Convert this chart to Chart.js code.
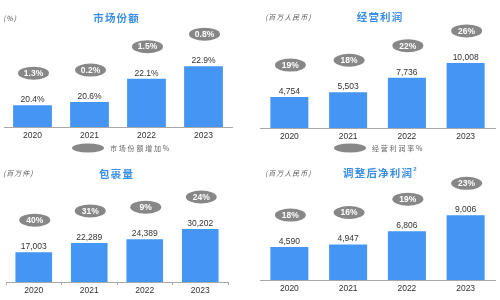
<!DOCTYPE html>
<html>
<head>
<meta charset="utf-8">
<script src="https://cdn.jsdelivr.net/npm/chart.js@4/dist/chart.umd.min.js"></script>
<style>
  html, body { margin: 0; padding: 0; background: #ffffff; }
  body { width: 500px; height: 300px; overflow: hidden; position: relative; }
  canvas { position: absolute; }
</style>
</head>
<body>
<canvas id="c3" width="250" height="150" style="left:0;top:150px"></canvas>
<canvas id="c4" width="250" height="150" style="left:250px;top:150px"></canvas>
<canvas id="c1" width="250" height="160" style="left:0;top:0"></canvas>
<canvas id="c2" width="250" height="160" style="left:250px;top:0"></canvas>
<script>
// ---- data ----
const years = ['2020', '2021', '2022', '2023'];

const shareValues = [20.4, 20.6, 22.1, 22.9];          // 市场份额 (%)
const shareGrowth = [1.3, 0.2, 1.5, 0.8];              // 市场份额增加%

const profitValues = [4754, 5503, 7736, 10008];        // 经营利润 (百万人民币)
const profitMargin = [19, 18, 22, 26];                 // 经营利润率%

const parcelValues = [17003, 22289, 24389, 30202];     // 包裹量 (百万件)
const parcelGrowth = [40, 31, 9, 24];                  // 增长%

const netProfitValues = [4590, 4947, 6806, 9006];      // 调整后净利润 (百万人民币)
const netProfitMargin = [18, 16, 19, 23];              // 净利润率%

// ---- styles ----
const BAR = '#4495f4';
const TITLE = '#3a8fe6';
const BADGE = '#878787';
const CJK = '"Noto Sans CJK SC", "Noto Sans", sans-serif';
const LAT = '"Liberation Sans", Arial, sans-serif';

function spacedText(ctx, text, x, y, spacing, align) {
  const chars = [...text];
  const widths = chars.map(c => ctx.measureText(c).width);
  const total = widths.reduce((a, b) => a + b, 0) + spacing * (chars.length - 1);
  let cx = align === 'center' ? x - total / 2 : x;
  ctx.textAlign = 'left';
  chars.forEach((c, i) => { ctx.fillText(c, cx, y); cx += widths[i] + spacing; });
  return cx;
}

function makePlugin(p) {
  return {
    id: 'panelDeco',
    afterDraw(chart) {
      const ctx = chart.ctx;
      ctx.save();
      const meta = chart.getDatasetMeta(0);
      meta.data.forEach((bar, i) => {
        const { x, y } = bar.getProps(['x', 'y'], true);
        // value label
        ctx.font = '8.5px ' + LAT;
        ctx.fillStyle = '#333333';
        ctx.textAlign = 'center';
        ctx.textBaseline = 'alphabetic';
        ctx.fillText(p.fmt(p.values[i]), x, y - 3);
        // badge
        const cy = y - 32;
        ctx.fillStyle = BADGE;
        ctx.beginPath();
        ctx.ellipse(x + 1, cy, 15.5, 6.5, 0, 0, Math.PI * 2);
        ctx.fill();
        ctx.fillStyle = '#ffffff';
        ctx.font = 'bold 8.5px ' + LAT;
        ctx.textAlign = 'center';
        ctx.textBaseline = 'middle';
        ctx.fillText(p.badgeFmt(p.badges[i]), x + 1, cy + 0.5);
      });
      // title
      ctx.fillStyle = TITLE;
      ctx.font = 'bold 10.5px ' + CJK;
      ctx.textBaseline = 'middle';
      const endX = spacedText(ctx, p.title, p.titleX, p.titleY, 1.2, 'center');
      if (p.sup) {
        ctx.font = 'bold 6px ' + LAT;
        ctx.fillText(p.sup, endX, p.titleY - 4);
      }
      // unit
      ctx.fillStyle = '#555555';
      ctx.font = 'italic 7px ' + CJK;
      ctx.textBaseline = 'middle';
      spacedText(ctx, p.unit, p.unitX, p.unitY, 1, 'left');
      // legend
      if (p.legend) {
        ctx.fillStyle = BADGE;
        ctx.beginPath();
        ctx.ellipse(p.legendX, p.legendY, 16, 4.5, 0, 0, Math.PI * 2);
        ctx.fill();
        ctx.fillStyle = '#666666';
        ctx.font = '7px ' + CJK;
        ctx.textBaseline = 'middle';
        spacedText(ctx, p.legend, p.legendX + 22, p.legendY, 1.8, 'left');
      }
      ctx.restore();
    }
  };
}

function makePanel(id, p) {
  return new Chart(document.getElementById(id), {
    type: 'bar',
    data: {
      labels: years,
      datasets: [{
        data: p.values,
        backgroundColor: BAR,
        borderWidth: 0,
        barPercentage: p.barPct,
        categoryPercentage: 1
      }]
    },
    options: {
      responsive: false,
      animation: false,
      devicePixelRatio: 1,
      layout: { padding: { left: p.left, right: p.right, top: p.top, bottom: 0 } },
      plugins: { legend: { display: false }, tooltip: { enabled: false } },
      scales: {
        x: {
          grid: { display: !!p.ticks, drawOnChartArea: false, drawTicks: !!p.ticks, tickLength: 3, color: '#a8a8a8' },
          border: { display: true, color: '#a8a8a8', width: 1 },
          ticks: { padding: p.tickPad, color: '#333333', font: { size: 8.5, family: LAT } },
          afterFit: (s) => { s.height = p.axisH; }
        },
        y: { display: false, min: p.min, max: p.max }
      }
    },
    plugins: [makePlugin(p)]
  });
}

const fmtPct = v => v.toFixed(1) + '%';
const fmtNum = v => v.toLocaleString('en-US');
const fmtInt = v => v + '%';

makePanel('c1', {
  values: shareValues, badges: shareGrowth, fmt: fmtPct, badgeFmt: v => v.toFixed(1) + '%',
  left: 4, right: 18, top: 27, axisH: 33, min: 19, max: 25.41, barPct: 0.68, tickPad: 4,
  title: '市场份额', titleX: 116, titleY: 18.5, unit: '(%)', unitX: 3, unitY: 18.5,
  legend: '市场份额增加%', legendX: 88, legendY: 148
});
makePanel('c2', {
  values: profitValues, badges: profitMargin, fmt: fmtNum, badgeFmt: fmtInt,
  left: 10, right: 5, top: 28, axisH: 32, min: 0, max: 15385, barPct: 0.647, tickPad: 3.5,
  title: '经营利润', titleX: 129.5, titleY: 17.5, unit: '(百万人民币)', unitX: 15, unitY: 17.5,
  legend: '经营利润率%', legendX: 100, legendY: 148
});
makePanel('c3', {
  values: parcelValues, badges: parcelGrowth, fmt: fmtNum, badgeFmt: fmtInt,
  left: 6, right: 22, top: 32, axisH: 18, min: 0, max: 56980, barPct: 0.66, tickPad: 1, ticks: true,
  title: '包裹量', titleX: 116, titleY: 24.5, unit: '(百万件)', unitX: 3, unitY: 23.5
});
makePanel('c4', {
  values: netProfitValues, badges: netProfitMargin, fmt: fmtNum, badgeFmt: fmtInt,
  left: 10, right: 5, top: 30, axisH: 20, min: 0, max: 13928, barPct: 0.647, tickPad: 4,
  title: '调整后净利润', titleX: 127.5, titleY: 23.5, sup: '2', unit: '(百万人民币)', unitX: 15, unitY: 23.5
});
</script>
</body>
</html>
